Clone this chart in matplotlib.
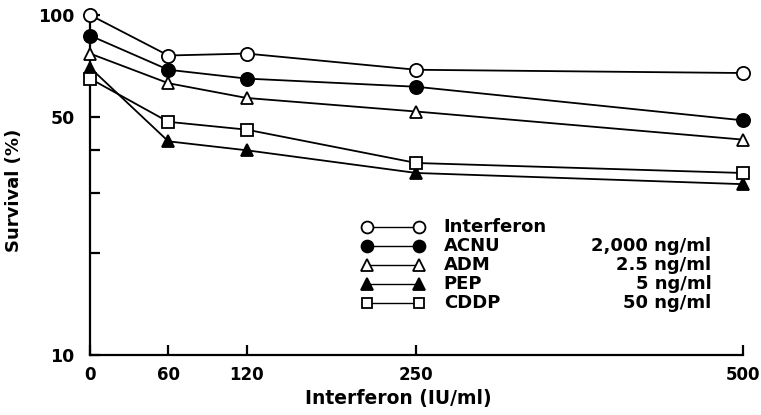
import numpy as np
import matplotlib
matplotlib.use("Agg")
import matplotlib.pyplot as plt

# interferon dose (IU/ml)
doses = [0, 60, 120, 250, 500]

# survival (%)
interferon = [100, 76, 77, 69, 67.5]
acnu = [87, 69, 65, 61.5, 49]
adm = [77, 63, 57, 52, 43]
pep = [70, 42.5, 40, 34.3, 31.8]
cddp = [65, 48.5, 46, 36.7, 34.3]

names = ["Interferon", "ACNU", "ADM", "PEP", "CDDP"]
concs = ["", "2,000 ng/ml", "2.5 ng/ml", "5 ng/ml", "50 ng/ml"]

yticks = [10, 20, 30, 40, 50, 100]
ytick_labels = ["10", "", "", "", "50", "100"]

plt.rcParams['font.family'] = ['DejaVu Sans']
plt.rcParams['font.weight'] = 'bold'

series = [interferon, acnu, adm, pep, cddp]
markers = ['o', 'o', '^', '^', 's']
faces = ['white', 'black', 'white', 'black', 'white']
msizes = [9.5, 9.5, 9, 9, 8]

fig = plt.figure(figsize=(7.61, 4.15), dpi=100)
ax = fig.add_axes([0.1183, 0.1446, 0.976 - 0.1183, 0.9639 - 0.1446])

for ys, m, fc, ms in zip(series, markers, faces, msizes):
    ax.plot(doses, ys, color='black', lw=1.3, marker=m, ms=ms,
            mfc=fc, mec='black', mew=1.3, clip_on=False, zorder=3)

ax.set_yscale('log')
ax.set_xlim(0, 500)
ax.set_ylim(10, 100)
ax.set_yticks(yticks)
ax.set_yticklabels(ytick_labels)
ax.yaxis.set_minor_locator(matplotlib.ticker.NullLocator())
ax.set_xticks(doses)
ax.set_xticklabels([str(d) for d in doses])

for s in ['top', 'right']:
    ax.spines[s].set_visible(False)
for s in ['left', 'bottom']:
    ax.spines[s].set_linewidth(1.6)

ax.tick_params(axis='x', direction='in', length=7, width=1.6, pad=8, labelsize=12)
ax.tick_params(axis='y', direction='in', length=7, width=1.6, pad=11, labelsize=12.5)

ax.set_xlabel("Interferon (IU/ml)", fontsize=13.5, fontweight='bold')
ax.xaxis.set_label_coords(0.473, -0.1)
ax.set_ylabel("Survival (%)", fontsize=13, fontweight='bold')
ax.yaxis.set_label_coords(-0.102, 0.485)

# hand-made key, as in the original
y0 = 0.376
dy = 0.056
for i, (nm, cc, m, fc, ms) in enumerate(zip(names, concs, markers, faces, msizes)):
    yy = y0 - i * dy
    ax.plot([0.425, 0.504], [yy, yy], transform=ax.transAxes, color='black',
            lw=1.0, marker=m, ms=ms * 0.9, mfc=fc, mec='black', mew=1.3,
            clip_on=False)
    ax.text(0.542, yy, nm, transform=ax.transAxes, va='center', ha='left',
            fontsize=13, fontweight='bold')
    if cc:
        ax.text(0.952, yy, cc, transform=ax.transAxes, va='center', ha='right',
                fontsize=13, fontweight='bold')

fig.savefig("out.png", dpi=100)
